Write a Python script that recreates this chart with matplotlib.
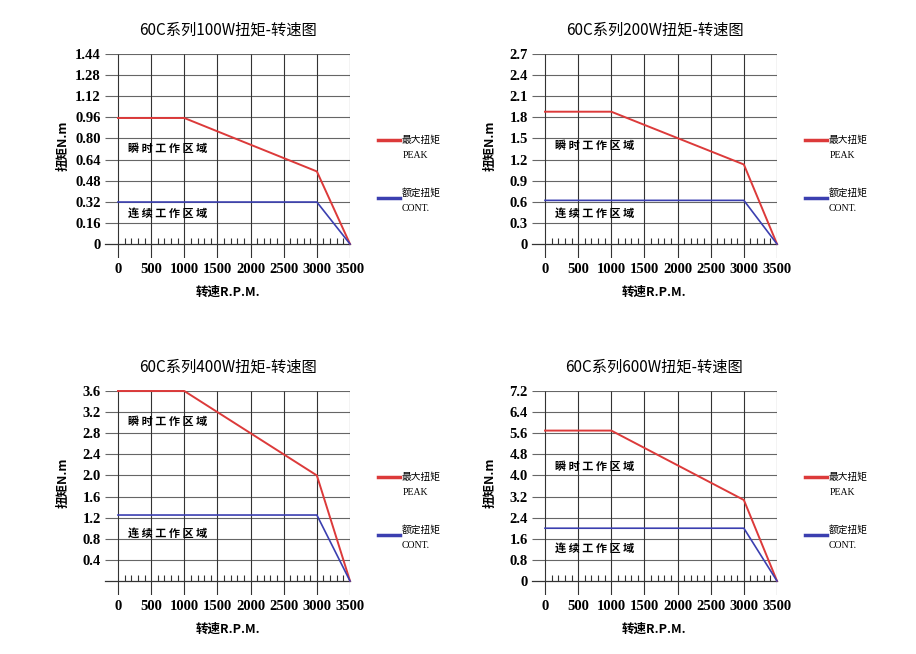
import matplotlib
matplotlib.use("Agg")
import matplotlib.pyplot as plt
import numpy as np

plt.rcParams['font.family'] = ['Liberation Serif', 'Noto Sans CJK SC', 'DejaVu Sans']

# motor power ratings
titles = ["60C系列100W扭矩-转速图", "60C系列200W扭矩-转速图",
          "60C系列400W扭矩-转速图", "60C系列600W扭矩-转速图"]

# speed points (rpm)
peak_rpm = [0, 1000, 3000, 3500]
cont_rpm = [0, 3000, 3500]

# torque values (N.m)
peak_100 = [0.955, 0.955, 0.55, 0]
cont_100 = [0.318, 0.318, 0]
peak_200 = [1.88, 1.88, 1.13, 0]
cont_200 = [0.62, 0.62, 0]
peak_400 = [3.6, 3.6, 2.0, 0]
cont_400 = [1.25, 1.25, 0]
peak_600 = [5.7, 5.7, 3.07, 0]
cont_600 = [2.0, 2.0, 0]

# y tick labels
yticks_100 = ["0", "0.16", "0.32", "0.48", "0.64", "0.80", "0.96", "1.12", "1.28", "1.44"]
yticks_200 = ["0", "0.3", "0.6", "0.9", "1.2", "1.5", "1.8", "2.1", "2.4", "2.7"]
yticks_400 = ["", "0.4", "0.8", "1.2", "1.6", "2.0", "2.4", "2.8", "3.2", "3.6"]
yticks_600 = ["0", "0.8", "1.6", "2.4", "3.2", "4.0", "4.8", "5.6", "6.4", "7.2"]
xticks = [0, 500, 1000, 1500, 2000, 2500, 3000, 3500]

peaks = [peak_100, peak_200, peak_400, peak_600]
conts = [cont_100, cont_200, cont_400, cont_600]
ytick_sets = [yticks_100, yticks_200, yticks_400, yticks_600]

# region label heights (fraction of y max)
inst_y = [0.505, 0.52, 0.84, 0.605]
cont_y = [0.163, 0.163, 0.25, 0.17]

fig = plt.figure(figsize=(9.16, 6.54), dpi=100)
W, H = 916, 654
lefts = [105, 532, 105, 532]
tops = [54, 54, 391, 391]
cjk = ['Noto Sans CJK SC', 'DejaVu Sans']
red = '#dc3a3a'
blue = '#3b3fb0'

for i in range(4):
    l, t = lefts[i], tops[i]
    ax = fig.add_axes([l / W, 1 - (t + 204) / H, 245 / W, 204 / H])
    labels = ytick_sets[i]
    ymax = float([s for s in labels if s][-1])
    yvals = np.linspace(0, ymax, len(labels))
    xmin = -196
    ymin = -0.0737 * ymax
    ax.set_xlim(xmin, 3500)
    ax.set_ylim(ymin, ymax)

    for s in ['top', 'right', 'left']:
        ax.spines[s].set_visible(False)
    ax.spines['bottom'].set_position(('data', 0))
    ax.spines['bottom'].set_color('#333333')
    ax.spines['bottom'].set_linewidth(0.9)

    ax.hlines(yvals[1:], xmin, 3500, color='#666666', lw=0.8, zorder=1)
    ax.vlines(xticks, ymin, ymax, color='#333333', lw=0.8, zorder=1)

    ax.plot(peak_rpm, peaks[i], color=red, lw=1.4, zorder=3, clip_on=False)
    ax.plot(cont_rpm, conts[i], color=blue, lw=1.2, zorder=3, clip_on=False)

    ax.set_yticks(yvals)
    ax.set_yticklabels(labels, fontweight='bold', fontsize=10.5)
    ax.tick_params(axis='y', length=0, pad=3)
    ax.set_xticks(xticks)
    ax.set_xticklabels([str(x) for x in xticks], fontweight='bold', fontsize=10.5)
    ax.tick_params(axis='x', which='major', length=0, pad=14)
    minors = [x for x in range(100, 3500, 100) if x % 500 != 0]
    ax.set_xticks(minors, minor=True)
    ax.tick_params(axis='x', which='minor', direction='in', length=4,
                   width=0.8, color='#333333')

    ax.set_title(titles[i], family=cjk, fontsize=11, pad=14)
    ax.set_xlabel("转速R.P.M.", family=cjk, fontsize=9, fontweight='bold', labelpad=7)
    ax.set_ylabel("扭矩N.m", family=cjk, fontsize=9, fontweight='bold', labelpad=6)
    ax.yaxis.set_label_coords(-0.145, 0.55)

    ax.text(150, inst_y[i] * ymax, "瞬 时 工 作 区 域", family=cjk,
            fontsize=8, fontweight='heavy', va='center', zorder=4)
    ax.text(150, cont_y[i] * ymax, "连 续 工 作 区 域", family=cjk,
            fontsize=8, fontweight='heavy', va='center', zorder=4)

    # legend
    ax.plot([1.114, 1.204], [0.578, 0.578], color=red, lw=2.5,
            transform=ax.transAxes, clip_on=False)
    ax.text(1.21, 0.578, "最大扭矩", family=cjk, fontsize=7,
            transform=ax.transAxes, va='center')
    ax.text(1.215, 0.50, "PEAK", fontsize=7, transform=ax.transAxes, va='center')
    ax.plot([1.114, 1.204], [0.294, 0.294], color=blue, lw=2.5,
            transform=ax.transAxes, clip_on=False)
    ax.text(1.21, 0.32, "额定扭矩", family=cjk, fontsize=7,
            transform=ax.transAxes, va='center')
    ax.text(1.21, 0.245, "CONT.", fontsize=7, transform=ax.transAxes, va='center')

fig.savefig("out.png", dpi=100)
